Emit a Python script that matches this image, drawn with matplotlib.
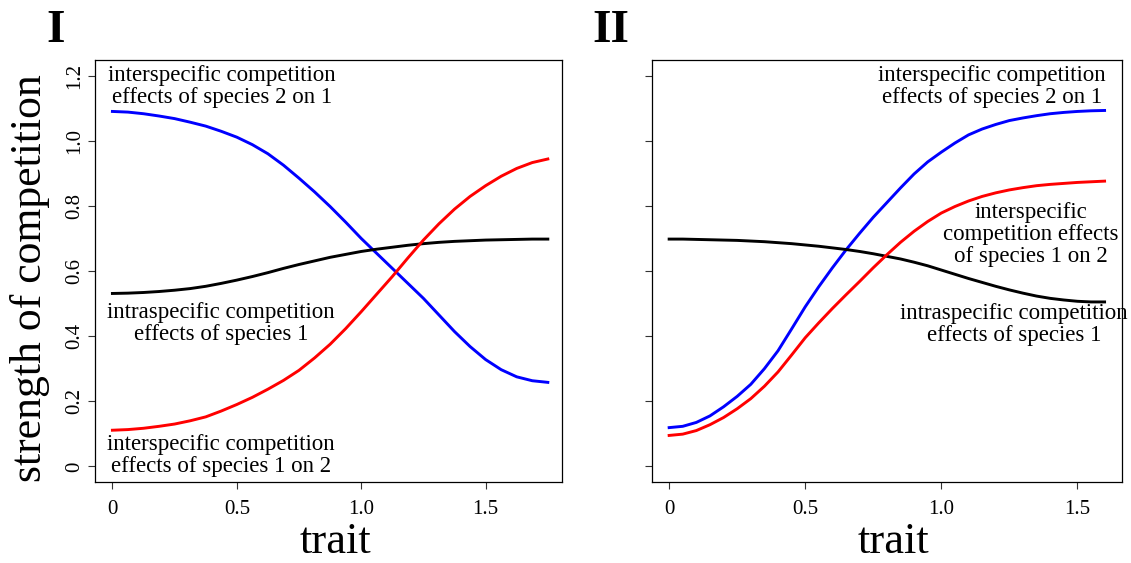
import matplotlib
matplotlib.use("Agg")
import matplotlib.pyplot as plt

# ---------------- data ----------------
trait_I = [0.0, 0.0625, 0.125, 0.1875, 0.25, 0.3125, 0.375, 0.4375, 0.5, 0.5625,
           0.625, 0.6875, 0.75, 0.8125, 0.875, 0.9375, 1.0, 1.0625, 1.125, 1.1875,
           1.25, 1.3125, 1.375, 1.4375, 1.5, 1.5625, 1.625, 1.6875, 1.75]
inter_2on1_I = [1.090, 1.088, 1.083, 1.076, 1.068, 1.057, 1.045, 1.029, 1.011, 0.988,
                0.960, 0.925, 0.885, 0.843, 0.798, 0.750, 0.700, 0.654, 0.608, 0.562,
                0.516, 0.465, 0.414, 0.368, 0.328, 0.297, 0.275, 0.263, 0.258]
intra_1_I = [0.531, 0.532, 0.534, 0.537, 0.541, 0.546, 0.553, 0.562, 0.572, 0.583,
             0.595, 0.608, 0.620, 0.631, 0.642, 0.651, 0.660, 0.667, 0.673, 0.679,
             0.684, 0.688, 0.691, 0.693, 0.695, 0.696, 0.697, 0.698, 0.698]
inter_1on2_I = [0.111, 0.113, 0.117, 0.123, 0.130, 0.140, 0.152, 0.170, 0.190, 0.212,
                0.237, 0.264, 0.295, 0.333, 0.375, 0.423, 0.475, 0.529, 0.583, 0.640,
                0.695, 0.745, 0.790, 0.829, 0.862, 0.891, 0.915, 0.933, 0.944]

trait_II = [0.0, 0.05, 0.1, 0.15, 0.2, 0.25, 0.3, 0.35, 0.4, 0.45, 0.5, 0.55, 0.6,
            0.65, 0.7, 0.75, 0.8, 0.85, 0.9, 0.95, 1.0, 1.05, 1.1, 1.15, 1.2, 1.25,
            1.3, 1.35, 1.4, 1.45, 1.5, 1.55, 1.6]
inter_2on1_II = [0.119, 0.123, 0.135, 0.155, 0.183, 0.215, 0.252, 0.300, 0.355, 0.422,
                 0.490, 0.552, 0.610, 0.665, 0.716, 0.765, 0.810, 0.855, 0.898, 0.935,
                 0.965, 0.993, 1.018, 1.036, 1.050, 1.062, 1.070, 1.077, 1.083, 1.087,
                 1.090, 1.092, 1.093]
intra_1_II = [0.698, 0.698, 0.697, 0.696, 0.695, 0.694, 0.692, 0.690, 0.687, 0.684,
              0.680, 0.676, 0.671, 0.666, 0.660, 0.653, 0.645, 0.637, 0.627, 0.616,
              0.603, 0.590, 0.577, 0.565, 0.553, 0.542, 0.532, 0.523, 0.516, 0.511,
              0.507, 0.505, 0.505]
inter_1on2_II = [0.095, 0.099, 0.110, 0.128, 0.150, 0.177, 0.208, 0.246, 0.290, 0.342,
                 0.395, 0.441, 0.485, 0.527, 0.568, 0.610, 0.650, 0.688, 0.722, 0.752,
                 0.778, 0.798, 0.815, 0.829, 0.840, 0.849, 0.856, 0.862, 0.866, 0.869,
                 0.872, 0.874, 0.876]

y_ticks = [0, 0.2, 0.4, 0.6, 0.8, 1.0, 1.2]
y_ticklabels = ["0", "0.2", "0.4", "0.6", "0.8", "1.0", "1.2"]
x_ticks = [0, 0.5, 1.0, 1.5]
x_ticklabels = ["0", "0.5", "1.0", "1.5"]
panel_labels = ["I", "II"]

# ---------------- figure ----------------
W, H = 1131, 563
SERIF = ["Liberation Serif", "DejaVu Serif"]
plt.rcParams["font.family"] = SERIF
fig = plt.figure(figsize=(W / 100, H / 100), dpi=100)

def px_axes(x0, x1, y0, y1):
    return fig.add_axes([x0 / W, 1 - y1 / H, (x1 - x0) / W, (y1 - y0) / H])

axI = px_axes(95, 562, 60, 482)
axII = px_axes(652, 1122, 60, 482)

for ax in (axI, axII):
    for s in ax.spines.values():
        s.set_linewidth(0.9)
        s.set_color("black")
    ax.set_ylim(-0.048, 1.248)
    ax.set_yticks(y_ticks)
    ax.set_xticks(x_ticks)
    ax.set_xticklabels(x_ticklabels)
    ax.tick_params(axis="both", length=5, width=0.8, labelsize=15, color="#333333")
    ax.tick_params(axis="x", pad=8)
    ax.tick_params(axis="y", pad=3)

axI.set_xlim(-0.070, 1.807)
axII.set_xlim(-0.063, 1.664)
axI.set_yticklabels(y_ticklabels, rotation=90, va="center")
axII.set_yticklabels([])

lw = 2.1
axI.plot(trait_I, inter_2on1_I, color="#0000ff", lw=lw)
axI.plot(trait_I, intra_1_I, color="black", lw=lw)
axI.plot(trait_I, inter_1on2_I, color="#ff0000", lw=lw)

axII.plot(trait_II, inter_2on1_II, color="#0000ff", lw=lw)
axII.plot(trait_II, intra_1_II, color="black", lw=lw)
axII.plot(trait_II, inter_1on2_II, color="#ff0000", lw=lw)

tk = dict(fontsize=16.5, ha="center", va="center", linespacing=1.07)
axI.text(0.44, 1.166, "interspecific competition\neffects of species 2 on 1", **tk)
axI.text(0.436, 0.44, "intraspecific competition\neffects of species 1", **tk)
axI.text(0.436, 0.034, "interspecific competition\neffects of species 1 on 2", **tk)

axII.text(1.186, 1.166, "interspecific competition\neffects of species 2 on 1", **tk)
axII.text(1.328, 0.711, "interspecific\ncompetition effects\nof species 1 on 2", **tk)
axII.text(1.268, 0.437, "intraspecific competition\neffects of species 1", **tk)

fig.text(30 / W, 1 - 278 / H, "strength of competition", rotation=90,
         ha="center", va="center", fontsize=31.5)
fig.text(335 / W, 0.6 / H, "trait", ha="center", va="bottom", fontsize=32)
fig.text(894 / W, 0.6 / H, "trait", ha="center", va="bottom", fontsize=32)

fig.text(56 / W, 1 - 42 / H, panel_labels[0], ha="center", va="baseline",
         fontsize=34, fontweight="bold")
fig.text(611 / W, 1 - 42 / H, panel_labels[1], ha="center", va="baseline",
         fontsize=34, fontweight="bold")

fig.savefig("out.png", dpi=100)
